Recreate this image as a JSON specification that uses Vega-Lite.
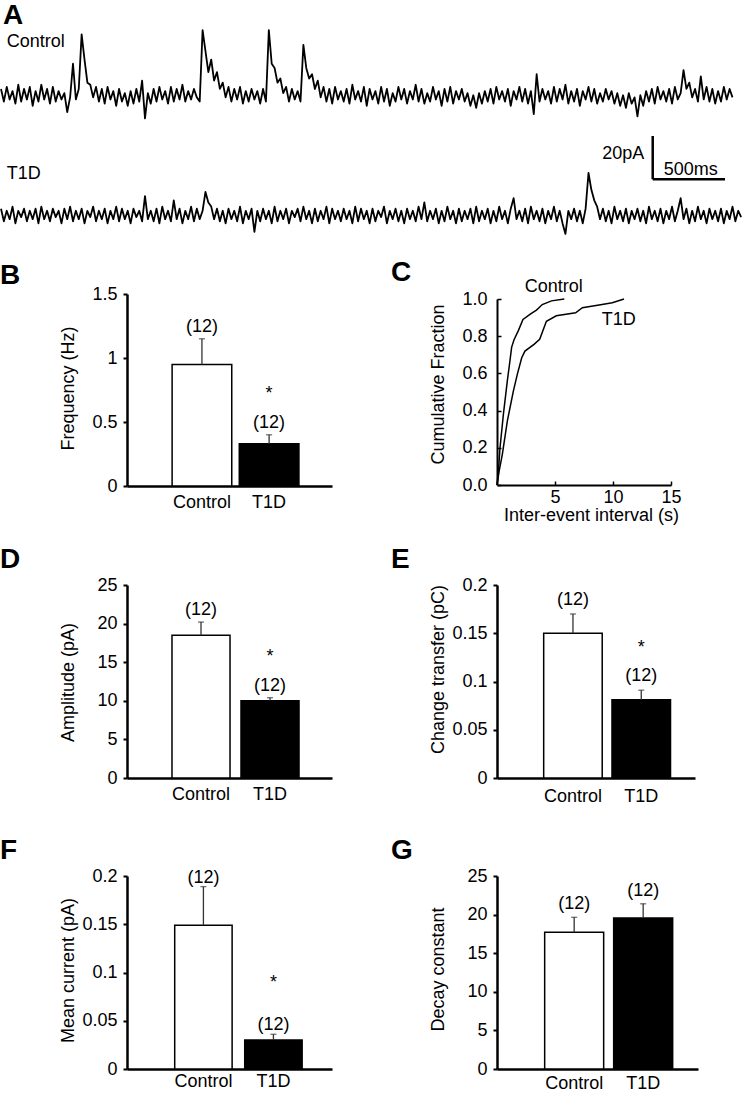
{
 "$schema": "https://vega.github.io/schema/vega-lite/v6.json",
 "padding": {"top": 2, "left": 0, "right": 0, "bottom": 0},
 "background": "white",
 "spacing": 22,
 "config": {
  "font": "Liberation Sans",
  "view": {"stroke": null},
  "axis": {"domainColor": "#000", "domainWidth": 2.5, "tickColor": "#000", "tickWidth": 2, "tickSize": 4, "labelColor": "#000", "labelFontSize": 18, "labelFont": "Liberation Sans", "titleColor": "#000", "titleFontSize": 18, "titleFontWeight": "normal", "titleFont": "Liberation Sans", "grid": false, "labelFlush": false, "labelOverlap": false, "labelPadding": 6, "titleBaseline": "alphabetic", "titleAlign": "center"},
  "title": {"fontSize": 28, "fontWeight": "bold", "anchor": "start", "frame": "group", "color": "#000", "font": "Liberation Sans", "offset": 2},
  "text": {"font": "Liberation Sans", "fontSize": 18, "color": "#000"}
 },
 "datasets": {
  "traces": [{
   "t": [0,20,40,60,80,100,120,140,160,180,200,220,240,260,280,300,320,340,360,380,400,420,440,460,480,500,520,540,560,580,600,620,640,660,680,700,720,740,760,780,800,820,840,860,880,900,920,940,960,980,1000,1020,1040,1060,1080,1100,1120,1140,1160,1180,1200,1220,1240,1260,1280,1300,1320,1340,1360,1380,1400,1420,1440,1460,1480,1500,1520,1540,1560,1580,1600,1620,1640,1660,1680,1700,1720,1740,1760,1780,1800,1820,1840,1860,1880,1900,1920,1940,1960,1980,2000,2020,2040,2060,2080,2100,2120,2140,2160,2180,2200,2220,2240,2260,2280,2300,2320,2340,2360,2380,2400,2420,2440,2460,2480,2500,2520,2540,2560,2580,2600,2620,2640,2660,2680,2700,2720,2740,2760,2780,2800,2820,2840,2860,2880,2900,2920,2940,2960,2980,3000,3020,3040,3060,3080,3100,3120,3140,3160,3180,3200,3220,3240,3260,3280,3300,3320,3340,3360,3380,3400,3420,3440,3460,3480,3500,3520,3540,3560,3580,3600,3620,3640,3660,3680,3700,3720,3740,3760,3780,3800,3820,3840,3860,3880,3900,3920,3940,3960,3980,4000,4020,4040,4060,4080,4100,4120,4140,4160,4180,4200,4220,4240,4260,4280,4300,4320,4340,4360,4380,4400,4420,4440,4460,4480,4500,4520,4540,4560,4580,4600,4620,4640,4660,4680,4700,4720,4740,4760,4780,4800,4820,4840,4860,4880,4900,4920,4940,4960,4980,5000,5020,5040,5060,5080,5100,5120,5140],
   "Control": [70,64,71,65,69,63,72,64,70,65,71,62,69,64,72,65,70,63,71,64,69,65,68,59,66,82,65,70,96,84,73,72,66,71,64,70,63,71,65,69,62,70,64,68,62,69,63,70,64,74,56,68,63,70,64,71,65,69,63,71,64,70,65,72,64,69,65,70,66,64,98,88,78,84,74,78,70,73,66,71,64,70,65,71,63,69,64,70,65,69,63,70,64,98,82,80,73,75,68,71,64,70,65,69,64,91,80,75,77,70,74,66,71,64,70,63,71,65,69,64,70,63,72,65,69,64,71,62,70,65,69,63,71,64,70,62,68,64,71,65,70,63,69,65,72,64,70,63,68,64,71,65,69,62,70,64,71,63,69,65,70,64,68,62,67,61,68,63,69,64,70,63,71,65,69,64,70,62,69,65,71,64,70,63,69,58,77,64,70,65,69,63,71,64,70,65,72,63,69,64,70,62,69,65,71,64,70,63,68,64,70,65,69,63,68,62,67,61,68,63,66,57,67,62,69,64,70,63,71,65,69,64,70,63,71,65,68,79,70,73,66,70,64,76,65,71,64,70,63,69,64,71,65,70,66,null,null,null],
   "T1D": [13,7,12,8,14,6,12,9,13,7,12,8,13,6,14,8,12,7,13,9,12,6,13,8,14,7,12,8,13,6,12,9,14,7,12,8,13,6,12,8,14,7,13,8,12,6,13,9,12,7,19,8,12,7,13,6,14,8,12,7,17,8,13,6,12,8,14,7,13,8,12,21,16,14,8,13,7,12,6,13,8,12,7,14,6,12,8,13,2,12,7,13,8,12,6,14,7,12,8,13,6,12,9,13,7,14,8,12,6,13,7,12,8,14,6,13,8,12,7,13,8,12,6,14,7,13,8,12,6,13,7,12,9,14,6,12,8,13,7,12,6,13,8,12,7,14,8,16,7,12,8,13,6,12,7,14,8,12,6,13,7,12,8,13,6,14,7,12,8,13,6,12,7,14,8,12,6,13,18,8,12,7,13,6,14,8,12,7,13,6,12,8,14,7,12,6,1,12,8,13,7,12,6,13,30,22,17,14,8,13,7,12,6,14,8,12,7,13,6,12,8,13,7,12,6,14,8,12,7,13,6,12,8,14,7,12,18,8,13,6,12,7,14,8,12,6,13,8,12,7,13,6,12,8,14,7,12,9]
  }],
  "traceLabels": [
   {"label": "Control", "t": 40, "v": 92.4},
   {"label": "T1D", "t": 40, "v": 29.4}
  ],
  "scaleBar": [
   {"t": 4526, "t2": 4526, "v": 27, "v2": 47.6},
   {"t": 4526, "t2": 5028, "v": 27, "v2": 27}
  ],
  "scaleLabels": [
   {"label": "20pA", "t": 4468, "v": 38.9, "kind": "current"},
   {"label": "500ms", "t": 4602, "v": 31.3, "kind": "time"}
  ],
  "ecdf": [
   {"group": "Control", "interval": 0, "fraction": 0},
   {"group": "Control", "interval": 0.15, "fraction": 0.1},
   {"group": "Control", "interval": 0.26, "fraction": 0.2},
   {"group": "Control", "interval": 0.55, "fraction": 0.38},
   {"group": "Control", "interval": 0.89, "fraction": 0.56},
   {"group": "Control", "interval": 1.1, "fraction": 0.66},
   {"group": "Control", "interval": 1.26, "fraction": 0.74},
   {"group": "Control", "interval": 1.46, "fraction": 0.78},
   {"group": "Control", "interval": 1.84, "fraction": 0.83},
   {"group": "Control", "interval": 2.24, "fraction": 0.89},
   {"group": "Control", "interval": 2.9, "fraction": 0.92},
   {"group": "Control", "interval": 3.4, "fraction": 0.94},
   {"group": "Control", "interval": 3.62, "fraction": 0.953},
   {"group": "Control", "interval": 3.9, "fraction": 0.97},
   {"group": "Control", "interval": 4.7, "fraction": 0.99},
   {"group": "Control", "interval": 5.8, "fraction": 1.0},
   {"group": "T1D", "interval": 0, "fraction": 0},
   {"group": "T1D", "interval": 0.2, "fraction": 0.08},
   {"group": "T1D", "interval": 0.46, "fraction": 0.165},
   {"group": "T1D", "interval": 0.89, "fraction": 0.344},
   {"group": "T1D", "interval": 1.41, "fraction": 0.505},
   {"group": "T1D", "interval": 1.75, "fraction": 0.595},
   {"group": "T1D", "interval": 2.13, "fraction": 0.684},
   {"group": "T1D", "interval": 2.41, "fraction": 0.72},
   {"group": "T1D", "interval": 3.19, "fraction": 0.756},
   {"group": "T1D", "interval": 3.68, "fraction": 0.783},
   {"group": "T1D", "interval": 4.05, "fraction": 0.846},
   {"group": "T1D", "interval": 4.26, "fraction": 0.88},
   {"group": "T1D", "interval": 5.11, "fraction": 0.91},
   {"group": "T1D", "interval": 6.78, "fraction": 0.926},
   {"group": "T1D", "interval": 7.36, "fraction": 0.953},
   {"group": "T1D", "interval": 8.8, "fraction": 0.968},
   {"group": "T1D", "interval": 9.94, "fraction": 0.98},
   {"group": "T1D", "interval": 10.95, "fraction": 1.0}
  ],
  "ecdfLabels": [
   {"group": "Control", "interval": 4.9, "fraction": 1.065},
   {"group": "T1D", "interval": 10.5, "fraction": 0.887}
  ],
  "bars": [
   {"measure": "freq", "group": "Control", "mean": 0.95, "upper": 1.15, "n": "(12)", "sig": ""},
   {"measure": "freq", "group": "T1D", "mean": 0.33, "upper": 0.4, "n": "(12)", "sig": "*"},
   {"measure": "amp", "group": "Control", "mean": 18.5, "upper": 20.2, "n": "(12)", "sig": ""},
   {"measure": "amp", "group": "T1D", "mean": 10.0, "upper": 10.4, "n": "(12)", "sig": "*"},
   {"measure": "charge", "group": "Control", "mean": 0.15, "upper": 0.17, "n": "(12)", "sig": ""},
   {"measure": "charge", "group": "T1D", "mean": 0.081, "upper": 0.091, "n": "(12)", "sig": "*"},
   {"measure": "current", "group": "Control", "mean": 0.149, "upper": 0.189, "n": "(12)", "sig": ""},
   {"measure": "current", "group": "T1D", "mean": 0.03, "upper": 0.036, "n": "(12)", "sig": "*"},
   {"measure": "decay", "group": "Control", "mean": 17.7, "upper": 19.65, "n": "(12)", "sig": ""},
   {"measure": "decay", "group": "T1D", "mean": 19.55, "upper": 21.4, "n": "(12)", "sig": ""}
  ]
 },
 "vconcat": [
  {
   "width": 614, "height": 209,
   "title": {"text": "A", "dx": -124, "offset": -3},
   "layer": [
    {
     "data": {"name": "traces"},
     "transform": [
      {"flatten": ["t", "Control", "T1D"]},
      {"fold": ["Control", "T1D"], "as": ["trace", "current"]},
      {"filter": "isValid(datum.current)"}
     ],
     "mark": {"type": "line", "color": "#000", "strokeWidth": 1.8, "strokeJoin": "round"},
     "encoding": {
      "x": {"field": "t", "type": "quantitative", "scale": {"domain": [0, 5153], "range": [-126, 616], "nice": false, "zero": false}, "axis": null},
      "y": {"field": "current", "type": "quantitative", "scale": {"domain": [0, 99.5], "nice": false}, "axis": null},
      "detail": {"field": "trace", "type": "nominal"}
     }
    },
    {
     "data": {"name": "traceLabels"},
     "mark": {"type": "text", "align": "left", "baseline": "middle", "fontSize": 18},
     "encoding": {
      "x": {"field": "t", "type": "quantitative"},
      "y": {"field": "v", "type": "quantitative"},
      "text": {"field": "label"}
     }
    },
    {
     "data": {"name": "scaleBar"},
     "mark": {"type": "rule", "color": "#000", "strokeWidth": 2.5},
     "encoding": {
      "x": {"field": "t", "type": "quantitative"},
      "x2": {"field": "t2"},
      "y": {"field": "v", "type": "quantitative"},
      "y2": {"field": "v2"}
     }
    },
    {
     "data": {"name": "scaleLabels"},
     "transform": [{"filter": {"field": "kind", "equal": "current"}}],
     "mark": {"type": "text", "align": "right", "baseline": "middle", "fontSize": 18},
     "encoding": {
      "x": {"field": "t", "type": "quantitative"},
      "y": {"field": "v", "type": "quantitative"},
      "text": {"field": "label"}
     }
    },
    {
     "data": {"name": "scaleLabels"},
     "transform": [{"filter": {"field": "kind", "equal": "time"}}],
     "mark": {"type": "text", "align": "left", "baseline": "middle", "fontSize": 18},
     "encoding": {
      "x": {"field": "t", "type": "quantitative"},
      "y": {"field": "v", "type": "quantitative"},
      "text": {"field": "label"}
     }
    }
   ]
  },
  {
   "spacing": 59,
   "hconcat": [
    {
     "width": 205, "height": 192,
     "title": {"text": "B", "dx": -127, "offset": -5},
     "data": {"name": "bars"},
     "transform": [{"filter": {"field": "measure", "equal": "freq"}}],
     "encoding": {"x": {"field": "group", "type": "nominal", "title": null, "sort": ["Control", "T1D"], "scale": {"paddingInner": 0.112, "paddingOuter": 0.582, "align": 0.577}, "axis": {"ticks": false, "labelAngle": 0, "labelPadding": 7}}},
     "layer": [
      {"mark": {"type": "bar", "stroke": "#000", "strokeWidth": 1.5},
       "encoding": {
        "y": {"field": "mean", "type": "quantitative", "title": "Frequency (Hz)", "scale": {"domain": [0, 1.5], "nice": false}, "axis": {"values": [0, 0.5, 1, 1.5], "tickCount": 10, "format": "~g", "labelOverlap": false, "titleX": -54, "titleY": 94}},
        "fill": {"field": "group", "type": "nominal", "scale": {"domain": ["Control", "T1D"], "range": ["#ffffff", "#000000"]}, "legend": null}}},
      {"mark": {"type": "rule", "color": "#333", "strokeWidth": 1.3},
       "encoding": {"y": {"field": "mean", "type": "quantitative", "title": "Frequency (Hz)"}, "y2": {"field": "upper"}}},
      {"mark": {"type": "tick", "color": "#333", "thickness": 1.3, "size": 6},
       "encoding": {"y": {"field": "upper", "type": "quantitative", "title": "Frequency (Hz)"}}},
      {"mark": {"type": "text", "fontSize": 18, "baseline": "middle", "dy": -12},
       "encoding": {"y": {"field": "upper", "type": "quantitative", "title": "Frequency (Hz)"}, "text": {"field": "n"}}},
      {"transform": [{"filter": {"field": "sig", "equal": "*"}}],
       "mark": {"type": "text", "fontSize": 18, "baseline": "middle", "dy": -41},
       "encoding": {"y": {"field": "upper", "type": "quantitative", "title": "Frequency (Hz)"}, "text": {"field": "sig"}}}
     ]
    },
    {
     "width": 174, "height": 191,
     "title": {"text": "C", "dx": -106, "dy": 3, "offset": -6},
     "layer": [
      {
       "data": {"name": "ecdf"},
       "mark": {"type": "line", "color": "#000", "strokeWidth": 1.5},
       "encoding": {
        "x": {"field": "interval", "type": "quantitative", "title": "Inter-event interval (s)", "scale": {"domain": [0, 15], "nice": false}, "axis": {"values": [5, 10, 15], "tickCount": 10, "labelOverlap": false, "tickSize": -4, "labelPadding": 7, "domainWidth": 2, "tickWidth": 1.5, "titleX": 94, "titleY": 35}},
        "y": {"field": "fraction", "type": "quantitative", "title": "Cumulative Fraction", "scale": {"domain": [0, 1], "range": [191, 5], "nice": false}, "axis": {"values": [0, 0.2, 0.4, 0.6, 0.8, 1], "tickCount": 10, "format": ".1f", "labelOverlap": false, "tickSize": -4, "labelPadding": 14, "domainWidth": 2, "tickWidth": 1.5, "titleX": -54, "titleY": 90}},
        "detail": {"field": "group", "type": "nominal"}
       }
      },
      {
       "data": {"name": "ecdfLabels"},
       "mark": {"type": "text", "fontSize": 18, "baseline": "middle"},
       "encoding": {
        "x": {"field": "interval", "type": "quantitative"},
        "y": {"field": "fraction", "type": "quantitative"},
        "text": {"field": "group"}
       }
      }
     ]
    }
   ]
  },
  {
   "spacing": 32,
   "vconcat": [
    {
     "spacing": 59,
     "hconcat": [
      {
       "width": 205, "height": 193,
       "title": {"text": "D", "dx": -127},
       "data": {"name": "bars"},
       "transform": [{"filter": {"field": "measure", "equal": "amp"}}],
       "encoding": {"x": {"field": "group", "type": "nominal", "title": null, "sort": ["Control", "T1D"], "scale": {"paddingInner": 0.159, "paddingOuter": 0.565, "align": 0.577}, "axis": {"ticks": false, "labelAngle": 0, "labelPadding": 7}}},
       "layer": [
        {"mark": {"type": "bar", "stroke": "#000", "strokeWidth": 1.5},
         "encoding": {
          "y": {"field": "mean", "type": "quantitative", "title": "Amplitude (pA)", "scale": {"domain": [0, 25], "nice": false}, "axis": {"values": [0, 5, 10, 15, 20, 25], "tickCount": 10, "labelOverlap": false, "titleX": -54, "titleY": 97}},
          "fill": {"field": "group", "type": "nominal", "scale": {"domain": ["Control", "T1D"], "range": ["#ffffff", "#000000"]}, "legend": null}}},
        {"mark": {"type": "rule", "color": "#333", "strokeWidth": 1.3},
         "encoding": {"y": {"field": "mean", "type": "quantitative", "title": "Amplitude (pA)"}, "y2": {"field": "upper"}}},
        {"mark": {"type": "tick", "color": "#333", "thickness": 1.3, "size": 6},
         "encoding": {"y": {"field": "upper", "type": "quantitative", "title": "Amplitude (pA)"}}},
        {"mark": {"type": "text", "fontSize": 18, "baseline": "middle", "dy": -12},
         "encoding": {"y": {"field": "upper", "type": "quantitative", "title": "Amplitude (pA)"}, "text": {"field": "n"}}},
        {"transform": [{"filter": {"field": "sig", "equal": "*"}}],
         "mark": {"type": "text", "fontSize": 18, "baseline": "middle", "dy": -41},
         "encoding": {"y": {"field": "upper", "type": "quantitative", "title": "Amplitude (pA)"}, "text": {"field": "sig"}}}
       ]
      },
      {
       "width": 198, "height": 193,
       "title": {"text": "E", "dx": -106},
       "data": {"name": "bars"},
       "transform": [{"filter": {"field": "measure", "equal": "charge"}}],
       "encoding": {"x": {"field": "group", "type": "nominal", "title": null, "sort": ["Control", "T1D"], "scale": {"paddingInner": 0.143, "paddingOuter": 0.521, "align": 0.656}, "axis": {"ticks": false, "labelAngle": 0, "labelPadding": 9}}},
       "layer": [
        {"mark": {"type": "bar", "stroke": "#000", "strokeWidth": 1.5},
         "encoding": {
          "y": {"field": "mean", "type": "quantitative", "title": "Change transfer (pC)", "scale": {"domain": [0, 0.2], "nice": false}, "axis": {"values": [0, 0.05, 0.1, 0.15, 0.2], "tickCount": 10, "format": "~g", "labelOverlap": false, "titleX": -54, "titleY": 84}},
          "fill": {"field": "group", "type": "nominal", "scale": {"domain": ["Control", "T1D"], "range": ["#ffffff", "#000000"]}, "legend": null}}},
        {"mark": {"type": "rule", "color": "#333", "strokeWidth": 1.3},
         "encoding": {"y": {"field": "mean", "type": "quantitative", "title": "Change transfer (pC)"}, "y2": {"field": "upper"}}},
        {"mark": {"type": "tick", "color": "#333", "thickness": 1.3, "size": 6},
         "encoding": {"y": {"field": "upper", "type": "quantitative", "title": "Change transfer (pC)"}}},
        {"mark": {"type": "text", "fontSize": 18, "baseline": "middle", "dy": -14},
         "encoding": {"y": {"field": "upper", "type": "quantitative", "title": "Change transfer (pC)"}, "text": {"field": "n"}}},
        {"transform": [{"filter": {"field": "sig", "equal": "*"}}],
         "mark": {"type": "text", "fontSize": 18, "baseline": "middle", "dy": -42},
         "encoding": {"y": {"field": "upper", "type": "quantitative", "title": "Change transfer (pC)"}, "text": {"field": "sig"}}}
       ]
      }
     ]
    },
    {
     "spacing": 59,
     "hconcat": [
      {
       "width": 205, "height": 193,
       "title": {"text": "F", "dx": -127},
       "data": {"name": "bars"},
       "transform": [{"filter": {"field": "measure", "equal": "current"}}],
       "encoding": {"x": {"field": "group", "type": "nominal", "title": null, "sort": ["Control", "T1D"], "scale": {"paddingInner": 0.18, "paddingOuter": 0.554, "align": 0.615}, "axis": {"ticks": false, "labelAngle": 0, "labelPadding": 3}}},
       "layer": [
        {"mark": {"type": "bar", "stroke": "#000", "strokeWidth": 1.5},
         "encoding": {
          "y": {"field": "mean", "type": "quantitative", "title": "Mean current (pA)", "scale": {"domain": [0, 0.2], "nice": false}, "axis": {"values": [0, 0.05, 0.1, 0.15, 0.2], "tickCount": 10, "format": "~g", "labelOverlap": false, "titleX": -54, "titleY": 94}},
          "fill": {"field": "group", "type": "nominal", "scale": {"domain": ["Control", "T1D"], "range": ["#ffffff", "#000000"]}, "legend": null}}},
        {"mark": {"type": "rule", "color": "#333", "strokeWidth": 1.3},
         "encoding": {"y": {"field": "mean", "type": "quantitative", "title": "Mean current (pA)"}, "y2": {"field": "upper"}}},
        {"mark": {"type": "tick", "color": "#333", "thickness": 1.3, "size": 6},
         "encoding": {"y": {"field": "upper", "type": "quantitative", "title": "Mean current (pA)"}}},
        {"mark": {"type": "text", "fontSize": 18, "baseline": "middle", "dy": -9},
         "encoding": {"y": {"field": "upper", "type": "quantitative", "title": "Mean current (pA)"}, "text": {"field": "n"}}},
        {"transform": [{"filter": {"field": "sig", "equal": "*"}}],
         "mark": {"type": "text", "fontSize": 18, "baseline": "middle", "dy": -51},
         "encoding": {"y": {"field": "upper", "type": "quantitative", "title": "Mean current (pA)"}, "text": {"field": "sig"}}}
       ]
      },
      {
       "width": 201, "height": 193,
       "title": {"text": "G", "dx": -106},
       "data": {"name": "bars"},
       "transform": [{"filter": {"field": "measure", "equal": "decay"}}],
       "encoding": {"x": {"field": "group", "type": "nominal", "title": null, "sort": ["Control", "T1D"], "scale": {"paddingInner": 0.145, "paddingOuter": 0.529, "align": 0.653}, "axis": {"ticks": false, "labelAngle": 0, "labelPadding": 5}}},
       "layer": [
        {"mark": {"type": "bar", "stroke": "#000", "strokeWidth": 1.5},
         "encoding": {
          "y": {"field": "mean", "type": "quantitative", "title": "Decay constant", "scale": {"domain": [0, 25], "nice": false}, "axis": {"values": [0, 5, 10, 15, 20, 25], "tickCount": 10, "labelOverlap": false, "titleX": -54, "titleY": 93}},
          "fill": {"field": "group", "type": "nominal", "scale": {"domain": ["Control", "T1D"], "range": ["#ffffff", "#000000"]}, "legend": null}}},
        {"mark": {"type": "rule", "color": "#333", "strokeWidth": 1.3},
         "encoding": {"y": {"field": "mean", "type": "quantitative", "title": "Decay constant"}, "y2": {"field": "upper"}}},
        {"mark": {"type": "tick", "color": "#333", "thickness": 1.3, "size": 6},
         "encoding": {"y": {"field": "upper", "type": "quantitative", "title": "Decay constant"}}},
        {"mark": {"type": "text", "fontSize": 18, "baseline": "middle", "dy": -13},
         "encoding": {"y": {"field": "upper", "type": "quantitative", "title": "Decay constant"}, "text": {"field": "n"}}}
       ]
      }
     ]
    }
   ]
  }
 ]
}
